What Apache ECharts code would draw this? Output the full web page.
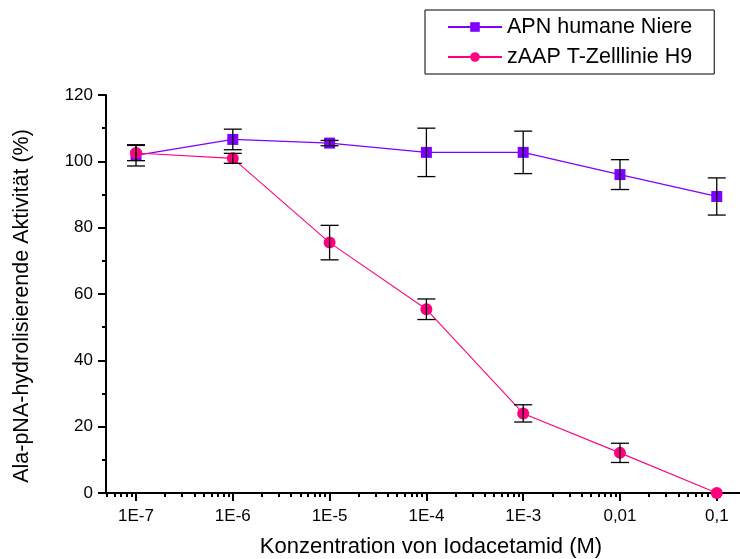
<!DOCTYPE html>
<html>
<head>
<meta charset="utf-8">
<script src="https://cdn.jsdelivr.net/npm/echarts@6/dist/echarts.min.js"></script>
<style>
  html, body { margin: 0; padding: 0; background: #fff; }
  #chart { width: 740px; height: 559px; }
</style>
</head>
<body>
<div id="chart"></div>
<script>
// Iodacetamide concentrations (M) and their axis labels
const concentrations = [1e-7, 1e-6, 1e-5, 1e-4, 1e-3, 1e-2, 1e-1];
const tickLabels = ['1E-7', '1E-6', '1E-5', '1E-4', '1E-3', '0,01', '0,1'];

// Remaining Ala-pNA-hydrolysing activity (%) with standard deviation
const apnMean = [101.8, 106.6, 105.5, 102.7, 102.7, 96.0, 89.4];
const apnErr  = [3.2, 3.1, 0.8, 7.3, 6.4, 4.5, 5.6];
const zaapMean = [102.5, 100.9, 75.5, 55.4, 24.0, 12.1, 0];
const zaapErr  = [2.3, 1.5, 5.2, 3.1, 2.6, 2.9, 0];

const seriesNames = ['APN humane Niere', 'zAAP T-Zelllinie H9'];
const colors = ['#8000ff', '#ff0080'];

// Axis extent in log space
const xMin = Math.pow(10, -7.31);
const xMax = Math.pow(10, -0.76);

// Minor log ticks (2..9 per decade) within the visible range
const minorTicks = [];
for (let e = -8; e <= -1; e++) {
  for (let k = 2; k <= 9; k++) {
    const v = k * Math.pow(10, e);
    if (v >= xMin && v <= xMax) minorTicks.push(v);
  }
}

const FONT = 'Arial, "Liberation Sans", sans-serif';

function pairs(means) {
  return concentrations.map((c, i) => [c, means[i]]);
}
function errData(means, errs) {
  return concentrations
    .map((c, i) => [c, means[i] - errs[i], means[i] + errs[i]])
    .filter((d, i) => errs[i] > 0);
}

function errorBarItem(params, api) {
  const x = api.value(0);
  const lo = api.coord([x, api.value(1)]);
  const hi = api.coord([x, api.value(2)]);
  const half = 9;
  const style = { stroke: '#000', lineWidth: 1.3 };
  return {
    type: 'group',
    children: [
      { type: 'line', shape: { x1: lo[0], y1: lo[1], x2: hi[0], y2: hi[1] }, style: style },
      { type: 'line', shape: { x1: lo[0] - half, y1: lo[1], x2: lo[0] + half, y2: lo[1] }, style: style },
      { type: 'line', shape: { x1: hi[0] - half, y1: hi[1], x2: hi[0] + half, y2: hi[1] }, style: style }
    ]
  };
}

const chart = echarts.init(document.getElementById('chart'), null, { renderer: 'canvas' });

chart.setOption({
  animation: false,
  backgroundColor: '#fff',
  textStyle: { fontFamily: FONT, color: '#000' },
  grid: { left: 106, right: 0, top: 95, bottom: 66, containLabel: false, outerBoundsMode: 'none' },
  legend: {
    orient: 'vertical',
    left: 425,
    top: 10,
    padding: [6, 22, 6, 22],
    itemGap: 8,
    itemWidth: 54,
    itemHeight: 12,
    borderColor: '#000',
    borderWidth: 1,
    borderRadius: 0,
    data: seriesNames,
    textStyle: { fontFamily: FONT, fontSize: 21.5, color: '#000' }
  },
  xAxis: [
    {
      type: 'log',
      logBase: 10,
      min: xMin,
      max: xMax,
      position: 'bottom',
      name: 'Konzentration von Iodacetamid (M)',
      nameLocation: 'middle',
      nameGap: 43,
      nameTextStyle: { fontFamily: FONT, fontSize: 22, color: '#000', padding: [0, 0, 0, 16] },
      axisLine: { show: true, lineStyle: { color: '#000', width: 2 } },
      axisTick: {
        show: true, inside: false, length: 8,
        customValues: concentrations,
        lineStyle: { color: '#000', width: 2 }
      },
      axisLabel: {
        show: true,
        margin: 15,
        fontFamily: FONT, fontSize: 17, color: '#000',
        customValues: concentrations,
        formatter: function (v) {
          const i = concentrations.findIndex(c => Math.abs(Math.log10(c) - Math.log10(v)) < 1e-6);
          return i >= 0 ? tickLabels[i] : '';
        }
      },
      splitLine: { show: false },
      minorTick: { show: false }
    },
    {
      type: 'log',
      logBase: 10,
      min: xMin,
      max: xMax,
      position: 'bottom',
      offset: 0,
      axisLine: { show: false },
      axisTick: {
        show: true, inside: false, length: 4,
        customValues: minorTicks,
        lineStyle: { color: '#000', width: 2 }
      },
      axisLabel: { show: false },
      splitLine: { show: false }
    }
  ],
  yAxis: {
    type: 'value',
    min: 0,
    max: 120,
    interval: 20,
    name: 'Ala-pNA-hydrolisierende Aktivität (%)',
    nameLocation: 'middle',
    nameGap: 73,
    nameTextStyle: { fontFamily: FONT, fontSize: 21.5, color: '#000', padding: [0, 24, 0, 0] },
    axisLine: { show: true, lineStyle: { color: '#000', width: 2 } },
    axisTick: { show: true, inside: false, length: 8, lineStyle: { color: '#000', width: 2 } },
    minorTick: { show: true, splitNumber: 2, length: 4, lineStyle: { color: '#000', width: 2 } },
    axisLabel: { margin: 13, fontFamily: FONT, fontSize: 17, color: '#000' },
    splitLine: { show: false }
  },
  series: [
    {
      name: seriesNames[0],
      type: 'line',
      xAxisIndex: 0,
      data: pairs(apnMean),
      symbol: 'rect',
      symbolSize: 11,
      color: colors[0],
      lineStyle: { color: colors[0], width: 1.3 },
      itemStyle: { color: colors[0] },
      z: 3
    },
    {
      name: seriesNames[1],
      type: 'line',
      xAxisIndex: 0,
      data: pairs(zaapMean),
      symbol: 'circle',
      symbolSize: 12,
      color: colors[1],
      lineStyle: { color: colors[1], width: 1.1 },
      itemStyle: { color: colors[1] },
      z: 4
    },
    {
      type: 'custom',
      xAxisIndex: 0,
      renderItem: errorBarItem,
      data: errData(apnMean, apnErr),
      encode: { x: 0, y: [1, 2] },
      z: 10,
      silent: true
    },
    {
      type: 'custom',
      xAxisIndex: 0,
      renderItem: errorBarItem,
      data: errData(zaapMean, zaapErr),
      encode: { x: 0, y: [1, 2] },
      z: 10,
      silent: true
    }
  ]
});
</script>
</body>
</html>
